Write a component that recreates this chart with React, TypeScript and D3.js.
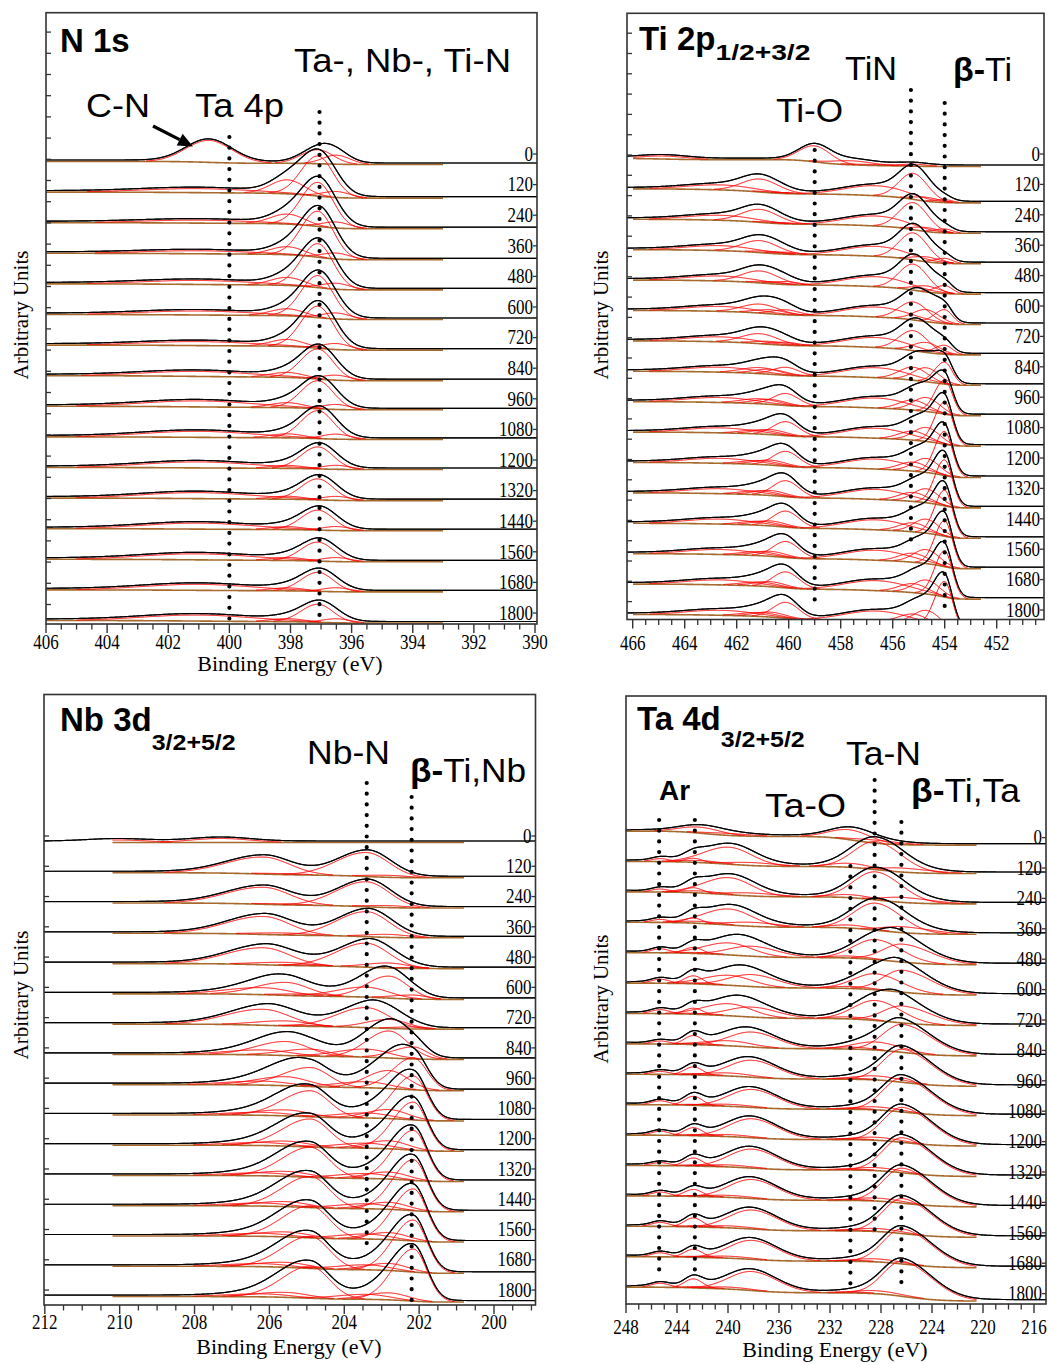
import React from "react";
import * as d3 from "d3";

// ---------------- DATA ----------------
const SPUTTER_TIMES = ["0","120","240","360","480","600","720","840","960","1080","1200","1320","1440","1560","1680","1800"];

// N 1s
const N1S_TICKS = [406, 404, 402, 400, 398, 396, 394, 392, 390];
const N1S_MARKERS = [400.0, 397.05];
const N1S_NITRIDE = [14, 40, 44, 46, 44, 42, 42, 30, 28, 28, 22, 21, 20, 19, 19, 18];
const N1S_LOW = [9, 6, 6, 6, 6, 6, 6, 5, 5, 5, 4, 4, 4, 4, 4, 4];
const N1S_SHOULDER = [0, 14, 10, 8, 8, 7, 7, 5, 5, 4, 3, 3, 3, 3, 3, 3];
const N1S_TA4P = [0, 4, 3, 3, 4, 4, 4, 5, 6, 6, 6, 6, 6, 6, 6, 6];
const N1S_CN = [22, 0, 0, 0, 0, 0, 0, 0, 0, 0, 0, 0, 0, 0, 0, 0];
const N1S_STEPS = [3, 6, 6, 6.5, 6, 5, 5, 5, 3.5, 2.5, 2, 2.5, 2, 2.5, 2, 2.5];

// Ti 2p
const TI_TICKS = [466, 464, 462, 460, 458, 456, 454, 452];
const TI_MARKERS = [459.0, 455.3, 454.0];
const TI_METAL_32 = [0, 3, 4, 5, 8, 14, 9, 22, 34, 42, 44, 46, 46, 46, 46, 46];
const TI_INTER_32 = [0, 4, 4, 5, 6, 12, 10, 14, 14, 14, 14, 14, 14, 14, 14, 14];
const TI_NITRIDE_32 = [2, 26, 27, 27, 26, 18, 20, 13, 10, 9, 9, 9, 9, 9, 9, 9];
const TI_SAT_32 = [1, 10, 10, 10, 10, 10, 10, 10, 10, 10, 10, 10, 10, 10, 10, 10];
const TI_OXIDE_32 = [16, 0, 0, 0, 0, 0, 0, 0, 0, 0, 0, 0, 0, 0, 0, 0];
const TI_SUBOX_32 = [4, 0, 0, 0, 0, 0, 0, 0, 0, 0, 0, 0, 0, 0, 0, 0];
const TI_METAL_12 = [0, 1, 1, 2, 3, 5, 3, 8, 12, 14, 15, 16, 16, 16, 16, 16];
const TI_INTER_12 = [0, 1, 1, 2, 2, 4, 3, 5, 5, 5, 5, 5, 5, 5, 5, 5];
const TI_NITRIDE_12 = [0, 13, 13, 12, 12, 9, 10, 6, 5, 4, 4, 4, 4, 4, 4, 4];
const TI_SAT_12 = [0, 5, 5, 5, 5, 5, 5, 5, 5, 5, 5, 5, 5, 5, 5, 5];
const TI_OXIDE_12 = [3, 0, 0, 0, 0, 0, 0, 0, 0, 0, 0, 0, 0, 0, 0, 0];
const TI_STEPS = [8, 14, 14, 14, 14, 14, 14, 14, 14, 14, 15, 15, 15, 15, 15, 15];

// Nb 3d
const NB_TICKS = [212, 210, 208, 206, 204, 202, 200];
const NB_MARKERS = [203.4, 202.2];
const NB_METAL_52 = [0, 0, 0, 0, 1, 4, 2, 12, 32, 44, 48, 50, 51, 52, 52, 52];
const NB_SUB_52 = [0, 2, 2, 3, 5, 22, 9, 27, 18, 9, 8, 7, 7, 7, 7, 7];
const NB_NITRIDE_52 = [0, 24, 25, 25, 24, 10, 20, 8, 6, 5, 5, 5, 5, 5, 5, 5];
const NB_OXIDE_52 = [4, 0, 0, 0, 0, 0, 0, 0, 0, 0, 0, 0, 0, 0, 0, 0];
const NB_METAL_32 = [0, 0, 0, 0, 1, 2, 1, 7, 19, 26, 28, 30, 31, 32, 32, 32];
const NB_SUB_32 = [0, 1, 1, 2, 3, 13, 5, 14, 9, 6, 5, 5, 5, 5, 5, 5];
const NB_NITRIDE_32 = [0, 17, 17, 18, 17, 7, 16, 5, 4, 3, 3, 3, 3, 3, 3, 3];
const NB_OXIDE_32 = [2.5, 0, 0, 0, 0, 0, 0, 0, 0, 0, 0, 0, 0, 0, 0, 0];
const NB_STEPS = [0, 5, 5, 4.5, 5, 5.5, 5, 5, 6, 6, 6, 6, 6, 6, 7, 5.5];

// Ta 4d
const TA_TICKS = [248, 244, 240, 236, 232, 228, 224, 220, 216];
const TA_MARKERS = [245.4, 242.6, 230.4, 228.5, 226.4];
const TA_OXIDE_52 = [10, 4, 3, 3, 2, 2, 2, 2, 1, 1, 1, 1, 1, 1, 1, 1];
const TA_NITRIDE_52 = [3, 28, 28, 27, 20, 16, 20, 8, 4, 3, 3, 3, 3, 3, 3, 3];
const TA_METAL_52 = [0, 4, 5, 6, 18, 22, 17, 28, 33, 34, 35, 35, 35, 35, 35, 35];
const TA_OXIDE_32 = [6, 2, 2, 2, 1, 1, 1, 1, 1, 1, 1, 1, 1, 1, 1, 1];
const TA_NITRIDE_32 = [2, 17, 17, 16, 12, 10, 12, 5, 3, 2, 2, 2, 2, 2, 2, 2];
const TA_METAL_32 = [0, 3, 3, 4, 10, 12, 10, 15, 17, 18, 19, 19, 19, 19, 19, 19];
const TA_AR_1 = [0, 3, 3, 3, 4, 4, 4, 3, 3, 4, 4, 3, 4, 4, 4, 4];
const TA_AR_2 = [0, 4, 5, 5, 6, 8, 6, 9, 8, 9, 8, 8, 7, 9, 8, 9];
const TA_STEPS = [14, 12, 12, 12, 12, 12, 12, 12, 12, 11, 11, 11, 11, 11, 11, 14];

// ---------------- MODEL ----------------
type Comp = { c: number; sHi: number; sLo: number; amp: number[] };

const N1S_COMPS: Comp[] = [
  { c: 400.67, sHi: 0.75, sLo: 0.75, amp: N1S_CN },
  { c: 401.0, sHi: 1.8, sLo: 1.8, amp: N1S_TA4P },
  { c: 398.1, sHi: 0.55, sLo: 0.55, amp: N1S_SHOULDER },
  { c: 397.1, sHi: 0.55, sLo: 0.5, amp: N1S_NITRIDE },
  { c: 396.5, sHi: 0.45, sLo: 0.45, amp: N1S_LOW },
];
const TI_COMPS: Comp[] = [
  { c: 454.0, sHi: 0.38, sLo: 0.3, amp: TI_METAL_32 },
  { c: 454.7, sHi: 0.5, sLo: 0.5, amp: TI_INTER_32 },
  { c: 455.2, sHi: 0.55, sLo: 0.55, amp: TI_NITRIDE_32 },
  { c: 456.6, sHi: 1.2, sLo: 1.2, amp: TI_SAT_32 },
  { c: 457.6, sHi: 0.8, sLo: 0.8, amp: TI_SUBOX_32 },
  { c: 459.0, sHi: 0.6, sLo: 0.6, amp: TI_OXIDE_32 },
  { c: 460.1, sHi: 0.5, sLo: 0.5, amp: TI_METAL_12 },
  { c: 460.7, sHi: 0.6, sLo: 0.6, amp: TI_INTER_12 },
  { c: 461.1, sHi: 0.7, sLo: 0.7, amp: TI_NITRIDE_12 },
  { c: 462.6, sHi: 1.3, sLo: 1.3, amp: TI_SAT_12 },
  { c: 464.8, sHi: 0.9, sLo: 0.9, amp: TI_OXIDE_12 },
];
const NB_COMPS: Comp[] = [
  { c: 202.15, sHi: 0.55, sLo: 0.36, amp: NB_METAL_52 },
  { c: 202.8, sHi: 0.6, sLo: 0.5, amp: NB_SUB_52 },
  { c: 203.4, sHi: 0.8, sLo: 0.6, amp: NB_NITRIDE_52 },
  { c: 207.3, sHi: 0.8, sLo: 0.8, amp: NB_OXIDE_52 },
  { c: 204.9, sHi: 0.75, sLo: 0.5, amp: NB_METAL_32 },
  { c: 205.55, sHi: 0.8, sLo: 0.6, amp: NB_SUB_32 },
  { c: 206.15, sHi: 1.0, sLo: 0.7, amp: NB_NITRIDE_32 },
  { c: 210.05, sHi: 0.8, sLo: 0.8, amp: NB_OXIDE_32 },
];
const TA_COMPS: Comp[] = [
  { c: 226.3, sHi: 1.5, sLo: 2.3, amp: TA_METAL_52 },
  { c: 228.4, sHi: 1.7, sLo: 2.0, amp: TA_NITRIDE_52 },
  { c: 230.4, sHi: 1.6, sLo: 1.6, amp: TA_OXIDE_52 },
  { c: 238.1, sHi: 1.8, sLo: 2.0, amp: TA_METAL_32 },
  { c: 239.9, sHi: 2.0, sLo: 1.8, amp: TA_NITRIDE_32 },
  { c: 242.2, sHi: 1.6, sLo: 1.6, amp: TA_OXIDE_32 },
  { c: 242.7, sHi: 0.7, sLo: 0.7, amp: TA_AR_2 },
  { c: 245.3, sHi: 0.7, sLo: 0.7, amp: TA_AR_1 },
];

function peak(e: number, c: Comp, i: number) {
  const a = c.amp[i];
  if (!a) return 0;
  const s = e >= c.c ? c.sHi : c.sLo;
  const z = (e - c.c) / s;
  return a * Math.exp(-0.5 * z * z);
}

const SANS = "'Liberation Sans', Arial, sans-serif";
const SERIF = "'Liberation Serif', 'Times New Roman', serif";
const BROWN = "#a8692c";

type Ann = { text: string; bold?: string; x: number; y: number; w: number; size?: number; weight?: string };

type PanelCfg = {
  id: string;
  box: { l: number; t: number; r: number; b: number };
  ticks: number[];
  xHi: number; xLo: number;
  minor: number;
  comps: Comp[];
  steps: number[];
  level0: number; spacing: number; labelDy: number;
  win: [number, number];
  leftTicks: number[] | null;
  markers: number[];
  markerY: [number, number][];
  tickBase: number;
  xTitle: { x: number; y: number } | null;
  yTitle: { x: number; y: number };
  title: { main: string; sub?: string; x: number; y: number; subDy: number; subW?: number };
  anns: Ann[];
  arrow?: { x1: number; y1: number; x2: number; y2: number };
};

function range(start: number, step: number, from: number, to: number) {
  return d3.range(from, to + 1).map((k) => start + step * k);
}

const PANELS: PanelCfg[] = [
  {
    id: "n1s",
    box: { l: 46, t: 12.7, r: 537, b: 624 },
    ticks: N1S_TICKS, xHi: 46, xLo: 535, minor: 0.5,
    comps: N1S_COMPS, steps: N1S_STEPS,
    level0: 160, spacing: 30.6, labelDy: -6,
    win: [393, 406],
    leftTicks: range(159.3, 21.2, -6, 21),
    markers: N1S_MARKERS, markerY: [[137, 621], [112, 621]],
    tickBase: 648.5,
    xTitle: { x: 290, y: 671 },
    yTitle: { x: 28, y: 315 },
    title: { main: "N 1s", x: 60, y: 52, subDy: 0 },
    anns: [
      { text: "Ta-, Nb-, Ti-N", x: 294, y: 72, w: 217 },
      { text: "C-N", x: 86, y: 117, w: 64 },
      { text: "Ta 4p", x: 195, y: 117, w: 89 },
    ],
    arrow: { x1: 153, y1: 126, x2: 193, y2: 146.5 },
  },
  {
    id: "ti",
    box: { l: 627, t: 13.3, r: 1044, b: 619.5 },
    ticks: TI_TICKS, xHi: 632.7, xLo: 996.7, minor: 0.5,
    comps: TI_COMPS, steps: TI_STEPS,
    level0: 157, spacing: 30.4, labelDy: -3,
    win: [452.6, 466],
    leftTicks: range(155, 20.3, -6, 22),
    markers: TI_MARKERS, markerY: [[150, 609], [90, 550], [103, 608]],
    tickBase: 650,
    xTitle: null,
    yTitle: { x: 608, y: 315 },
    title: { main: "Ti 2p", sub: "1/2+3/2", x: 639, y: 50, subDy: 10, subW: 95 },
    anns: [
      { text: "TiN", x: 845, y: 80, w: 52 },
      { text: "Ti-O", x: 776, y: 122, w: 67 },
      { bold: "\u03b2-", text: "Ti", x: 953, y: 81, w: 59 },
    ],
  },
  {
    id: "nb",
    box: { l: 44, t: 694.5, r: 535.5, b: 1305 },
    ticks: NB_TICKS, xHi: 44.8, xLo: 494, minor: 0.5,
    comps: NB_COMPS, steps: NB_STEPS,
    level0: 841, spacing: 30.27, labelDy: -5,
    win: [200.8, 210.2],
    leftTicks: null,
    markers: NB_MARKERS, markerY: [[783, 1245], [797, 1303]],
    tickBase: 1329,
    xTitle: { x: 289, y: 1354 },
    yTitle: { x: 28, y: 995 },
    title: { main: "Nb 3d", sub: "3/2+5/2", x: 60, y: 731, subDy: 19, subW: 84 },
    anns: [
      { text: "Nb-N", x: 307, y: 764, w: 83 },
      { bold: "\u03b2-", text: "Ti,Nb", x: 410, y: 782, w: 116 },
    ],
  },
  {
    id: "ta",
    box: { l: 626, t: 696, r: 1046, b: 1304 },
    ticks: TA_TICKS, xHi: 626, xLo: 1034, minor: 1,
    comps: TA_COMPS, steps: TA_STEPS,
    level0: 829.6, spacing: 30.4, labelDy: 8,
    win: [220.5, 248],
    leftTicks: null,
    markers: TA_MARKERS, markerY: [[820, 1280], [820, 1280], [866, 1287], [780, 1240], [822, 1283]],
    tickBase: 1334,
    xTitle: { x: 835, y: 1357 },
    yTitle: { x: 608, y: 999 },
    title: { main: "Ta 4d", sub: "3/2+5/2", x: 637, y: 730, subDy: 17, subW: 84 },
    anns: [
      { text: "Ar", x: 659, y: 800, w: 31, size: 27, weight: "bold" },
      { text: "Ta-O", x: 765, y: 817, w: 81 },
      { text: "Ta-N", x: 846, y: 765, w: 75 },
      { bold: "\u03b2-", text: "Ti,Ta", x: 911, y: 802, w: 109 },
    ],
  },
];

function Panel({ cfg }: { cfg: PanelCfg }) {
  const { box } = cfg;
  const x = d3.scaleLinear().domain([cfg.ticks[0], cfg.ticks[cfg.ticks.length - 1]]).range([cfg.xHi, cfg.xLo]);
  const eLeft = x.invert(box.l);
  const eRight = x.invert(box.r);
  const n = Math.round((box.r - box.l) * 2);
  const es = d3.range(n + 1).map((k) => eRight + ((eLeft - eRight) * k) / n);
  const inWin = (e: number) => e >= cfg.win[0] && e <= cfg.win[1];
  const clipId = `clip-${cfg.id}`;

  const rows = SPUTTER_TIMES.map((lab, i) => {
    const L = cfg.level0 + cfg.spacing * i;
    const step = cfg.steps[i];
    const R = L + step;
    const y = d3.scaleLinear().domain([0, 1]).range([R, R - 1]);
    const compVals = cfg.comps.map((c) => es.map((e) => peak(e, c, i)));
    const total = es.map((_, j) => compVals.reduce((s, cv) => s + cv[j], 0));
    const cum = Array.from(d3.cumsum(total));
    const tot = cum[cum.length - 1] || 0;
    const bg = cum.map((v) => (tot > 0 ? (step * v) / tot : 0));
    const line = d3.line<[number, number]>().x((p) => p[0]).y((p) => p[1]);
    const black = line(es.map((e, j) => [x(e), y(bg[j] + total[j])]));
    const winIdx = es.map((e, j) => j).filter((j) => inWin(es[j]));
    const brown = line(winIdx.map((j) => [x(es[j]), y(bg[j]) + 1.5]));
    const reds = compVals
      .filter((cv) => d3.max(cv)! > 0.5)
      .map((cv) => {
        const g = d3
          .line<number>()
          .defined((j) => cv[j] > 0.5)
          .x((j) => x(es[j]))
          .y((j) => y(bg[j] + cv[j]) + 1.5);
        return g(winIdx);
      });
    return { lab, L, black, brown, reds };
  });

  const majorSet = new Set(cfg.ticks.map((t) => t.toFixed(2)));
  const lo = Math.ceil(Math.min(eLeft, eRight) / cfg.minor) * cfg.minor;
  const hi = Math.max(eLeft, eRight);
  const minors = d3.range(lo, hi + 1e-6, cfg.minor).filter((v) => !majorSet.has(v.toFixed(2)) && x(v) >= box.l - 0.5 && x(v) <= box.r + 0.5);
  const leftTicks = cfg.leftTicks
    ? cfg.leftTicks.filter((v) => v > box.t + 3 && v < box.b - 3)
    : rows.map((r) => r.L + (cfg.id === "ta" ? 0 : cfg.labelDy));

  let arrow: React.ReactNode = null;
  if (cfg.arrow) {
    const a = cfg.arrow;
    const dx = a.x2 - a.x1, dy = a.y2 - a.y1;
    const len = Math.hypot(dx, dy);
    const ux = dx / len, uy = dy / len;
    const hl = 15, hw = 6.5;
    const bx = a.x2 - ux * hl, by = a.y2 - uy * hl;
    arrow = (
      <g>
        <line x1={a.x1} y1={a.y1} x2={bx} y2={by} stroke="#000" strokeWidth={3.2} />
        <polygon points={`${a.x2},${a.y2} ${bx - uy * hw},${by + ux * hw} ${bx + uy * hw},${by - ux * hw}`} fill="#000" />
      </g>
    );
  }

  return (
    <g>
      <defs>
        <clipPath id={clipId}>
          <rect x={box.l} y={box.t} width={box.r - box.l} height={box.b - box.t} />
        </clipPath>
      </defs>
      <g clipPath={`url(#${clipId})`}>
        {rows.map((r, i) => (
          <g key={i}>
            <path d={r.black || ""} fill="none" stroke="#000" strokeWidth={1.2} />
            <path d={r.brown || ""} fill="none" stroke={BROWN} strokeWidth={1.6} />
            {r.reds.map((d, k) => (
              <path key={k} d={d || ""} fill="none" stroke="#ff0000" strokeWidth={1} />
            ))}
          </g>
        ))}
        {rows.map((r, i) => (
          <path key={`b${i}`} d={r.black || ""} fill="none" stroke="#000" strokeWidth={1.1} strokeOpacity={0.85} />
        ))}
      </g>
      {cfg.markers.map((e, k) => (
        <line key={k} x1={x(e)} x2={x(e)} y1={cfg.markerY[k][0]} y2={cfg.markerY[k][1]} stroke="#000" strokeWidth={4.2} strokeLinecap="round" strokeDasharray="0 10.7" />
      ))}
      <rect x={box.l} y={box.t} width={box.r - box.l} height={box.b - box.t} fill="none" stroke="#333" strokeWidth={1.6} />
      {leftTicks.map((v, k) => (
        <line key={k} x1={box.l} x2={box.l + 5} y1={v} y2={v} stroke="#333" strokeWidth={1.3} />
      ))}
      {rows.map((r, i) => {
        const cy = r.L + cfg.labelDy;
        return (
          <g key={i}>
            <line x1={box.r - 4} x2={box.r} y1={cy} y2={cy} stroke="#333" strokeWidth={1.3} />
            <text transform={`translate(${box.r - 4},${cy + 6.7}) scale(1,1.2)`} textAnchor="end" fontFamily={SERIF} fontSize={17} fill="#000">
              {r.lab}
            </text>
          </g>
        );
      })}
      {minors.map((v, k) => (
        <line key={k} x1={x(v)} x2={x(v)} y1={box.b} y2={box.b + 5.5} stroke="#333" strokeWidth={1.3} />
      ))}
      {cfg.ticks.map((v, k) => (
        <g key={k}>
          <line x1={x(v)} x2={x(v)} y1={box.b} y2={box.b + 9} stroke="#333" strokeWidth={1.4} />
          <text transform={`translate(${x(v)},${cfg.tickBase}) scale(1,1.2)`} textAnchor="middle" fontFamily={SERIF} fontSize={17} fill="#000">
            {v}
          </text>
        </g>
      ))}
      {cfg.xTitle && (
        <text x={cfg.xTitle.x} y={cfg.xTitle.y} textAnchor="middle" fontFamily={SERIF} fontSize={22} fill="#000">
          Binding Energy (eV)
        </text>
      )}
      <text transform={`translate(${cfg.yTitle.x},${cfg.yTitle.y}) rotate(-90)`} textAnchor="middle" fontFamily={SERIF} fontSize={21} fill="#000">
        Arbitrary Units
      </text>
      <text x={cfg.title.x} y={cfg.title.y} fontFamily={SANS} fontWeight="bold" fontSize={33} fill="#000">
        {cfg.title.main}
        {cfg.title.sub && (
          <tspan dy={cfg.title.subDy} fontSize={22} textLength={cfg.title.subW} lengthAdjust="spacingAndGlyphs">
            {cfg.title.sub}
          </tspan>
        )}
      </text>
      {cfg.anns.map((a, k) => (
        <text key={k} x={a.x} y={a.y} fontFamily={SANS} fontSize={a.size || 34} fontWeight={a.weight || "normal"} fill="#000" textLength={a.w} lengthAdjust="spacingAndGlyphs">
          {a.bold && <tspan fontWeight="bold">{a.bold}</tspan>}
          {a.text}
        </text>
      ))}
      {arrow}
    </g>
  );
}

export default function App() {
  return (
    <svg width={1048} height={1365} viewBox="0 0 1048 1365" style={{ position: "absolute", left: 0, top: 0, display: "block", background: "#fff" }}>
      <rect x={0} y={0} width={1048} height={1365} fill="#fff" />
      {PANELS.map((p) => (
        <Panel key={p.id} cfg={p} />
      ))}
    </svg>
  );
}
